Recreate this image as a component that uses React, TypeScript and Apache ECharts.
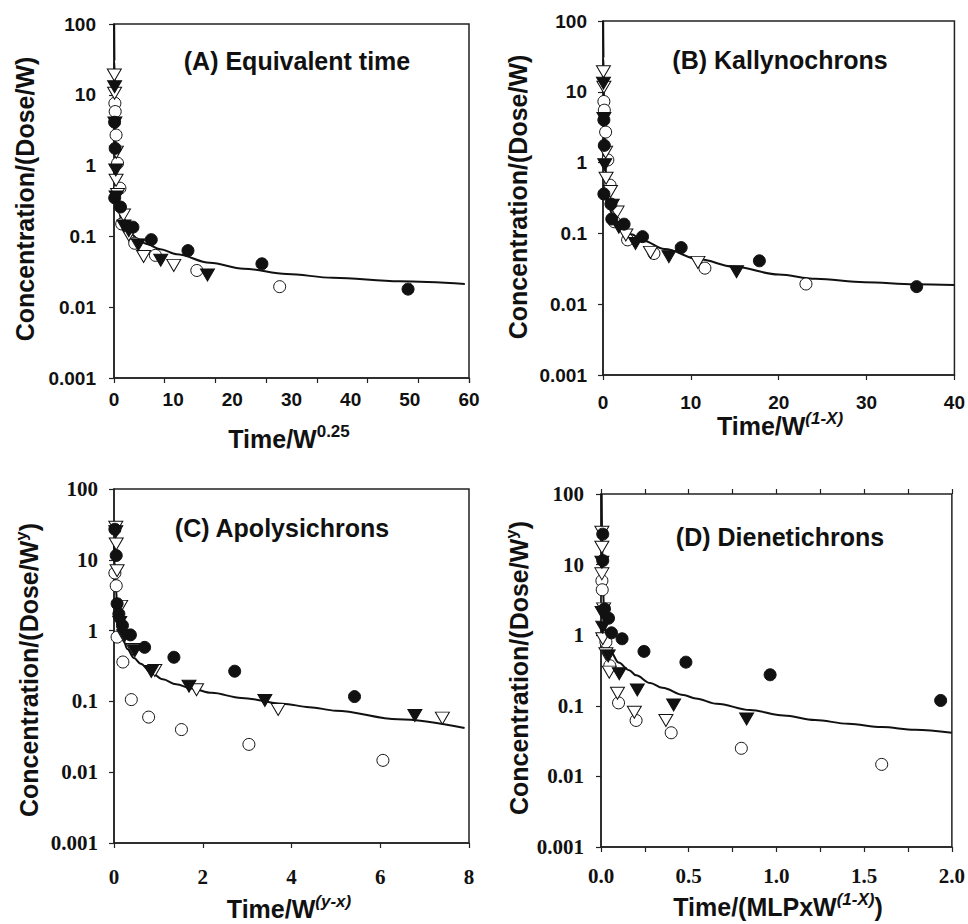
import React, { useEffect, useRef } from 'react';
import * as echarts from 'echarts';

// ---------- Panel A: Equivalent time (x = Time/W^0.25) ----------
const aCurve = [[0.03, 100], [0.08, 30], [0.15, 8], [0.22, 3], [0.3, 1.3], [0.42, 0.6], [0.6, 0.32], [0.85, 0.22], [1.3, 0.165], [2, 0.13], [2.8, 0.11], [4, 0.092], [5.5, 0.078], [7.8, 0.066], [10.6, 0.056], [16.2, 0.0425], [21.9, 0.035], [29.2, 0.0295], [37, 0.026], [48.3, 0.0232], [59.3, 0.0213]];
const aFilledCircle = [[0.1, 4.1], [0.2, 1.75], [0.12, 0.35], [1.1, 0.26], [3.2, 0.135], [6.3, 0.09], [12.5, 0.063], [25, 0.041], [49.7, 0.018]];
const aOpenCircle = [[0.15, 7.6], [0.2, 5.8], [0.35, 2.7], [0.6, 1.08], [1.0, 0.48], [1.3, 0.15], [3.5, 0.08], [7.0, 0.054], [14.0, 0.033], [28.0, 0.0195]];
const aFilledTri = [[0.1, 13], [0.15, 4.0], [0.3, 0.87], [0.35, 0.36], [1.7, 0.14], [2.5, 0.12], [4.1, 0.076], [7.9, 0.046], [15.8, 0.0285]];
const aOpenTri = [[0.05, 19], [0.1, 10.5], [0.4, 1.55], [0.35, 0.62], [0.6, 0.39], [1.6, 0.2], [2.5, 0.105], [5.0, 0.052], [10.1, 0.039]];

// ---------- Panel B: Kallynochrons (x = Time/W^(1-X)) ----------
const bCurve = [[0.02, 100], [0.06, 30], [0.11, 8], [0.17, 3], [0.25, 1.2], [0.38, 0.55], [0.6, 0.3], [0.9, 0.2], [1.3, 0.158], [2, 0.128], [3.2, 0.097], [4.6, 0.079], [7, 0.06], [11, 0.043], [14.8, 0.034], [20, 0.0262], [24.2, 0.0228], [29.8, 0.0205], [35.5, 0.0192], [40, 0.0187]];
const bFilledCircle = [[0.1, 4.0], [0.15, 1.75], [0.1, 0.36], [0.9, 0.26], [1.0, 0.16], [2.4, 0.135], [4.5, 0.09], [8.9, 0.063], [17.8, 0.041], [35.7, 0.0177]];
const bOpenCircle = [[0.1, 7.3], [0.15, 5.5], [0.3, 2.7], [0.55, 1.09], [0.8, 0.48], [1.3, 0.146], [2.8, 0.081], [5.8, 0.052], [11.6, 0.0323], [23.1, 0.0193]];
const bFilledTri = [[0.05, 13.2], [0.1, 4.2], [0.2, 0.93], [1.05, 0.25], [1.8, 0.122], [3.7, 0.072], [7.5, 0.047], [15.2, 0.0288]];
const bOpenTri = [[0.05, 19.2], [0.1, 11.6], [0.3, 1.4], [0.35, 0.6], [0.85, 0.39], [1.6, 0.2], [2.6, 0.095], [5.4, 0.054], [10.8, 0.039]];

// ---------- Panel C: Apolysichrons (x = Time/W^(y-x)) ----------
const cCurve = [[0.0, 19], [0.02, 9], [0.04, 4.5], [0.07, 2.2], [0.1, 1.4], [0.15, 0.95], [0.22, 0.7], [0.3, 0.55], [0.45, 0.41], [0.6, 0.34], [0.85, 0.25], [1.1, 0.205], [1.4, 0.175], [1.75, 0.152], [2.2, 0.132], [2.87, 0.112], [3.8, 0.093], [4.4, 0.083], [5.0, 0.074], [6.4, 0.056], [7.9, 0.042]];
const cFilledCircle = [[0.02, 27], [0.05, 11.5], [0.07, 2.4], [0.11, 1.72], [0.19, 1.18], [0.37, 0.87], [0.69, 0.58], [1.35, 0.42], [2.72, 0.267], [5.42, 0.117]];
const cOpenCircle = [[0.02, 6.5], [0.05, 4.3], [0.07, 0.81], [0.2, 0.36], [0.39, 0.106], [0.78, 0.06], [1.52, 0.04], [3.04, 0.0247], [6.06, 0.0147]];
const cFilledTri = [[0.04, 25], [0.13, 1.3], [0.24, 0.85], [0.47, 0.52], [0.84, 0.264], [1.69, 0.164], [3.4, 0.103], [6.78, 0.0634]];
const cOpenTri = [[0.04, 28.8], [0.05, 16.7], [0.07, 7.0], [0.15, 2.2], [0.22, 0.85], [0.43, 0.54], [0.92, 0.273], [1.86, 0.146], [3.7, 0.077], [7.4, 0.058]];

// ---------- Panel D: Dienetichrons (x = Time/(MLPxW^(1-X))) ----------
const dCurve = [[0.004, 100], [0.007, 20], [0.011, 5], [0.018, 2], [0.028, 1.05], [0.04, 0.72], [0.056, 0.58], [0.1, 0.41], [0.16, 0.32], [0.2, 0.27], [0.28, 0.21], [0.35, 0.18], [0.47, 0.142], [0.54, 0.127], [0.66, 0.107], [0.85, 0.087], [1.04, 0.073], [1.22, 0.063], [1.41, 0.0556], [1.6, 0.05], [1.79, 0.0457], [2.0, 0.0415]];
const dFilledCircle = [[0.01, 27], [0.01, 11.4], [0.02, 2.36], [0.043, 1.74], [0.06, 1.08], [0.12, 0.89], [0.245, 0.59], [0.484, 0.415], [0.964, 0.275], [1.936, 0.119]];
const dOpenCircle = [[0.005, 5.9], [0.007, 4.4], [0.028, 0.8], [0.05, 0.37], [0.1, 0.11], [0.2, 0.062], [0.4, 0.0415], [0.8, 0.025], [1.6, 0.0148]];
const dFilledTri = [[0.005, 10.8], [0.006, 2.1], [0.01, 1.3], [0.041, 0.51], [0.104, 0.284], [0.207, 0.168], [0.414, 0.103], [0.83, 0.065]];
const dOpenTri = [[0.005, 28.7], [0.005, 17.6], [0.005, 7.4], [0.015, 2.36], [0.01, 0.89], [0.028, 0.545], [0.047, 0.3], [0.094, 0.151], [0.19, 0.081], [0.37, 0.062]];

// ---------- Tick labels ----------
const logTickLabels = ['0.001', '0.01', '0.1', '1', '10', '100'];

const SANS = "'Liberation Sans', Arial, Helvetica, sans-serif";
const SERIF = "'Liberation Serif', 'Times New Roman', serif";
const INK = '#111';
const FRAME = '#222';

const logFmt = (v: number) => {
  const e = Math.round(Math.log10(v));
  return logTickLabels[e + 3] ?? String(v);
};

function xAxis(gi: number, min: number, max: number, interval: number, family: string, size: number, margin: number, extra: any = {}) {
  return {
    type: 'value', gridIndex: gi, min, max, interval, position: 'bottom',
    axisLine: { show: true, onZero: false, lineStyle: { color: FRAME, width: 1.5 } },
    axisTick: { show: true, inside: false, length: 5, lineStyle: { color: FRAME, width: 1.2 } },
    axisLabel: { show: true, margin, fontFamily: family, fontWeight: 'bold', fontSize: size, color: INK },
    splitLine: { show: false },
    ...extra,
  };
}

function tickOnlyAxis(gi: number, min: number, max: number, interval: number, position: string) {
  return {
    type: 'value', gridIndex: gi, min, max, interval, position,
    axisLine: { show: false },
    axisTick: { show: true, inside: false, length: 5, lineStyle: { color: FRAME, width: 1.2 } },
    axisLabel: { show: false },
    splitLine: { show: false },
  };
}

function yAxis(gi: number, family: string, size: number, margin: number) {
  return {
    type: 'log', logBase: 10, gridIndex: gi, min: 0.001, max: 100, position: 'left',
    axisLine: { show: true, onZero: false, lineStyle: { color: FRAME, width: 1.5 } },
    axisTick: { show: true, inside: false, length: 5, lineStyle: { color: FRAME, width: 1.2 } },
    axisLabel: { show: true, margin, fontFamily: family, fontWeight: 'bold', fontSize: size, color: INK, formatter: logFmt },
    splitLine: { show: false },
    minorTick: { show: false },
  };
}

const TRI = 'path://M0,0L20,0L10,17Z';

function scatter(name: string, data: number[][], idx: number, kind: 'fc' | 'oc' | 'ft' | 'ot') {
  const filled = kind === 'fc' || kind === 'ft';
  const circle = kind === 'fc' || kind === 'oc';
  return {
    type: 'scatter', name, data, xAxisIndex: idx, yAxisIndex: idx, silent: true,
    symbol: circle ? 'circle' : TRI,
    symbolSize: circle ? 12 : [14, 12],
    itemStyle: { color: filled ? INK : '#fff', borderColor: INK, borderWidth: 1, opacity: 1 },
    z: 3,
  };
}

function curve(name: string, data: number[][], idx: number) {
  return {
    type: 'line', name, data, xAxisIndex: idx, yAxisIndex: idx, silent: true,
    symbol: 'none', showSymbol: false, smooth: 0.35, smoothMonotone: 'x',
    lineStyle: { color: INK, width: 2 }, z: 2,
  };
}

const tokenBase = { fontFamily: SANS, fontWeight: 'bold', fill: INK, color: INK };
const rich = {
  m: { ...tokenBase, fontSize: 25, lineHeight: 28, verticalAlign: 'bottom' },
  s: { ...tokenBase, fontSize: 17, lineHeight: 17, verticalAlign: 'top' },
  i: { ...tokenBase, fontSize: 17, lineHeight: 17, verticalAlign: 'top', fontStyle: 'italic' },
};

function richText(x: number, y: number, text: string, rotation = 0) {
  return {
    type: 'text', x, y, rotation, silent: true,
    style: {
      text, rich, ...tokenBase, fontSize: 25,
      align: 'center', verticalAlign: 'middle', textAlign: 'center', textVerticalAlign: 'middle',
    },
  };
}

function title(x: number, y: number, text: string) {
  return {
    type: 'text', x, y, silent: true,
    style: {
      text, ...tokenBase, fontSize: 25,
      align: 'center', verticalAlign: 'middle', textAlign: 'center', textVerticalAlign: 'middle',
    },
  };
}

const gridBox = { show: true, borderColor: FRAME, borderWidth: 1.5, backgroundColor: 'transparent', containLabel: false };

const option: any = {
  animation: false,
  backgroundColor: '#fff',
  textStyle: { fontFamily: SANS },
  grid: [
    { ...gridBox, left: 114, top: 24, width: 355, height: 354 },
    { ...gridBox, left: 603, top: 21, width: 354, height: 354 },
    { ...gridBox, left: 114, top: 489, width: 355, height: 354 },
    { ...gridBox, left: 601, top: 494, width: 354, height: 353 },
  ],
  xAxis: [
    xAxis(0, 0, 60, 10, SANS, 19, 12, { axisTick: { show: false } }),
    xAxis(1, 0, 40, 10, SANS, 19, 18),
    xAxis(2, 0, 8, 2, SERIF, 21, 23),
    xAxis(3, 0, 2, 0.5, SERIF, 21, 18, {
      axisLabel: { show: true, margin: 18, fontFamily: SERIF, fontWeight: 'bold', fontSize: 21, color: INK, formatter: (v: number) => v.toFixed(1) },
      minorTick: { show: true, splitNumber: 2, length: 5, lineStyle: { color: FRAME, width: 1.2 } },
    }),
    tickOnlyAxis(0, 0, 60, 60 / 7, 'bottom'),
    tickOnlyAxis(3, 0, 2, 0.25, 'top'),
  ],
  yAxis: [
    yAxis(0, SANS, 19, 18),
    yAxis(1, SANS, 19, 16),
    yAxis(2, SERIF, 21, 16),
    yAxis(3, SERIF, 21, 17),
  ],
  series: [
    curve('A fit', aCurve, 0),
    scatter('A ○', aOpenCircle, 0, 'oc'),
    scatter('A ▽', aOpenTri, 0, 'ot'),
    scatter('A ●', aFilledCircle, 0, 'fc'),
    scatter('A ▼', aFilledTri, 0, 'ft'),

    curve('B fit', bCurve, 1),
    scatter('B ○', bOpenCircle, 1, 'oc'),
    scatter('B ▽', bOpenTri, 1, 'ot'),
    scatter('B ●', bFilledCircle, 1, 'fc'),
    scatter('B ▼', bFilledTri, 1, 'ft'),

    curve('C fit', cCurve, 2),
    scatter('C ○', cOpenCircle, 2, 'oc'),
    scatter('C ▽', cOpenTri, 2, 'ot'),
    scatter('C ●', cFilledCircle, 2, 'fc'),
    scatter('C ▼', cFilledTri, 2, 'ft'),

    curve('D fit', dCurve, 3),
    scatter('D ○', dOpenCircle, 3, 'oc'),
    scatter('D ▽', dOpenTri, 3, 'ot'),
    scatter('D ●', dFilledCircle, 3, 'fc'),
    scatter('D ▼', dFilledTri, 3, 'ft'),
  ],
  graphic: [
    title(297, 61, '(A) Equivalent time'),
    title(780, 60, '(B) Kallynochrons'),
    title(282, 528, '(C) Apolysichrons'),
    title(780, 537, '(D) Dienetichrons'),

    richText(289, 437, '{m|Time/W}{s|0.25}'),
    richText(780, 424, '{m|Time/W}{i|(1-X)}'),
    richText(289, 907, '{m|Time/W}{i|(y-x)}'),
    richText(778, 905, '{m|Time/(MLPxW}{i|(1-X)}{m|)}'),

    richText(23, 199, '{m|Concentration/(Dose/W)}', Math.PI / 2),
    richText(516, 197, '{m|Concentration/(Dose/W)}', Math.PI / 2),
    richText(27, 670, '{m|Concentration/(Dose/W}{s|y}{m|)}', Math.PI / 2),
    richText(517, 668, '{m|Concentration/(Dose/W}{s|y}{m|)}', Math.PI / 2),
  ],
};

export default function App() {
  const ref = useRef<HTMLDivElement>(null);
  useEffect(() => {
    if (!ref.current) return;
    const chart = echarts.init(ref.current, null, { renderer: 'svg' });
    chart.setOption(option);
    return () => chart.dispose();
  }, []);
  return (
    <div
      ref={ref}
      style={{ position: 'absolute', left: 0, top: 0, width: 968, height: 924, background: '#fff' }}
    />
  );
}
